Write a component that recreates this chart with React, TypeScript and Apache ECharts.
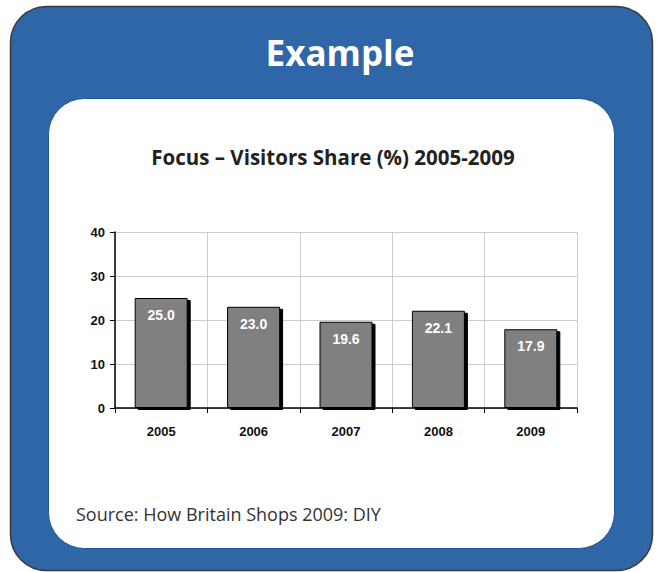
import React, { useEffect, useRef } from "react";
import * as echarts from "echarts";

const years = ["2005", "2006", "2007", "2008", "2009"];
const visitorsShare = [25.0, 23.0, 19.6, 22.1, 17.9];
const yTicks = { min: 0, max: 40, interval: 10 };
const heading = "Example";
const chartTitle = "Focus – Visitors Share (%) 2005-2009";
const sourceNote = "Source: How Britain Shops 2009: DIY";

export default function App() {
  const ref = useRef<HTMLDivElement>(null);
  useEffect(() => {
    document.body.style.margin = "0";
    const chart = echarts.init(ref.current!, undefined, { renderer: "svg" });
    chart.setOption({
      animation: false,
      backgroundColor: "#ffffff",
      graphic: [
        {
          type: "rect",
          z: -20,
          shape: { x: 10.5, y: 6.5, width: 642, height: 564, r: 36 },
          style: { fill: "#2E66A8", stroke: "#3a3a3a", lineWidth: 1.5 },
        },
        {
          type: "rect",
          z: -19,
          shape: { x: 48.5, y: 98.5, width: 566, height: 450, r: 36 },
          style: { fill: "#ffffff", stroke: "#1d5896", lineWidth: 1 },
        },
        {
          type: "text",
          z: 10,
          x: 340,
          y: 52,
          style: {
            text: heading,
            fill: "#ffffff",
            font: "bold 35px 'Open Sans', 'Noto Sans', sans-serif",
            textAlign: "center",
            textVerticalAlign: "middle",
          },
        },
        {
          type: "text",
          z: 10,
          x: 333,
          y: 157,
          style: {
            text: chartTitle,
            fill: "#222222",
            font: "bold 20.5px 'Open Sans', 'Noto Sans', sans-serif",
            textAlign: "center",
            textVerticalAlign: "middle",
          },
        },
        {
          type: "text",
          z: 10,
          x: 76,
          y: 514,
          style: {
            text: sourceNote,
            fill: "#333333",
            font: "18px 'Open Sans', 'Noto Sans', sans-serif",
            textAlign: "left",
            textVerticalAlign: "middle",
          },
        },
      ],
      grid: { left: 115, right: 80, top: 232, bottom: 164, containLabel: false },
      xAxis: {
        type: "category",
        data: years,
        boundaryGap: true,
        axisLine: { lineStyle: { color: "#000000", width: 1.5 } },
        axisTick: { show: true, length: 5, lineStyle: { color: "#000000" } },
        axisLabel: {
          color: "#111111",
          fontFamily: "'Liberation Sans', Arial, sans-serif",
          fontWeight: "bold",
          fontSize: 13,
          margin: 17,
        },
        splitLine: { show: true, lineStyle: { color: "#cccccc", width: 1 } },
      },
      yAxis: {
        type: "value",
        min: yTicks.min,
        max: yTicks.max,
        interval: yTicks.interval,
        axisLine: { show: true, lineStyle: { color: "#000000", width: 1.5 } },
        axisTick: { show: true, length: 5, lineStyle: { color: "#000000" } },
        axisLabel: {
          color: "#111111",
          fontFamily: "'Liberation Sans', Arial, sans-serif",
          fontWeight: "bold",
          fontSize: 13,
          margin: 10,
        },
        splitLine: { show: true, lineStyle: { color: "#cccccc", width: 1 } },
      },
      series: [
        {
          type: "bar",
          data: visitorsShare,
          barWidth: 53,
          itemStyle: {
            color: "#808080",
            borderColor: "#000000",
            borderWidth: 1,
            shadowColor: "#000000",
            shadowOffsetX: 3,
            shadowOffsetY: 2,
            shadowBlur: 0,
          },
          label: {
            show: true,
            position: "insideTop",
            distance: 10,
            color: "#ffffff",
            fontFamily: "'Liberation Sans Narrow', 'Liberation Sans', Arial, sans-serif",
            fontWeight: "bold",
            fontSize: 14,
            formatter: (p: any) => Number(p.value).toFixed(1),
          },
        },
      ],
    });
    return () => chart.dispose();
  }, []);
  return <div ref={ref} style={{ width: 657, height: 572 }} />;
}
